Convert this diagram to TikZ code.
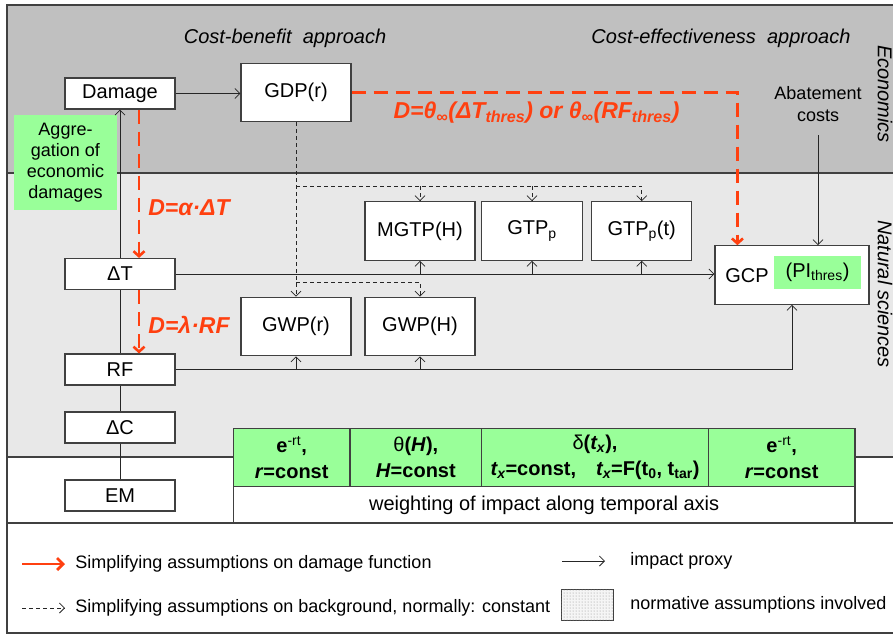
\documentclass[tikz,border=0pt]{standalone}
\usepackage{fontspec}
\setmainfont{Liberation Sans}
\usepackage{tikz}
\usetikzlibrary{arrows.meta,patterns}
\tikzset{every picture/.style={line width=0.75pt}}

\definecolor{econgray}{RGB}{192,192,192}
\definecolor{natgray}{RGB}{232,232,232}
\definecolor{normgreen}{RGB}{153,255,153}
\definecolor{dmgred}{RGB}{255,64,16}
\definecolor{linegray}{RGB}{64,64,64}

\tikzset{
  box/.style={draw=linegray, fill=white, line width=1.1pt, inner sep=0pt, minimum width=110pt, minimum height=31pt, font=\fontsize{20}{24}\selectfont},
  bigbox/.style={box, minimum height=58.5pt},
  link/.style={draw=black!85, line width=0.8pt},
  proxy/.style={link, -{Straight Barb[length=5pt,width=10pt]}},
  bgdash/.style={proxy, dash pattern=on 4pt off 3pt},
  dmgarrow/.style={draw=dmgred, line width=2.6pt, dash pattern=on 14pt off 8pt, -{Straight Barb[length=5pt,width=11pt]}},
  dmglabel/.style={text=dmgred, font=\fontsize{23}{27}\selectfont\bfseries\itshape},
  cell/.style={draw=linegray, fill=normgreen, line width=1.1pt, inner sep=0pt, minimum height=58.4pt, align=center, font=\fontsize{20}{26}\selectfont\bfseries},
  legtext/.style={anchor=west, inner sep=0pt, font=\fontsize{18}{22}\selectfont},
  heading/.style={font=\fontsize{20}{24}\selectfont\itshape},
}

\begin{document}
\begin{tikzpicture}[x=1pt,y=1pt,yscale=-1,xscale=1]
	\useasboundingbox (0,0) rectangle (893,635);
	\clip (0,0) rectangle (893,635);

	%Shape: Rectangle [economics band]
	\fill [econgray] (7,5) rectangle (893,173);
	%Shape: Rectangle [natural sciences band]
	\fill [natgray] (7,173) rectangle (893,457);
	%Shape: Frame
	\draw [linegray, line width=1.1pt] (7,5) rectangle (900,633);
	\draw [linegray, line width=1.1pt] (7,173) -- (893,173);
	\draw [linegray, line width=1.1pt] (7,457) -- (893,457);
	\draw [linegray, line width=1.1pt] (7,523) -- (893,523);

	% Text Node
	\node [heading] (cba) at (285,38) {Cost-benefit \ approach};
	% Text Node
	\node [heading] (cea) at (721,38) {Cost-effectiveness \ approach};
	% Text Node
	\node [heading, rotate=-90] (econ) at (885,94) {Economics};
	% Text Node
	\node [heading, rotate=-90] (natsci) at (885,294) {Natural sciences};

	% Boxes
	\node [box] (dmg) at (120,93.5) {Damage};
	\node [bigbox] (gdp) at (296,92.5) {GDP(r)};
	\node [box] (dT) at (120,274) {ΔT};
	\node [box] (rf) at (120,369.5) {RF};
	\node [box] (dC) at (120,427.5) {ΔC};
	\node [box] (em) at (120,495.5) {EM};
	\node [bigbox] (mgtp) at (420,231) {MGTP(H)};
	\node [bigbox, minimum width=101pt] (gtpp) at (532,231) {GTP\textsubscript{p}};
	\node [bigbox, minimum width=100pt] (gtppt) at (641.7,231) {GTP\textsubscript{p}(t)};
	\node [bigbox] (gwpr) at (296,326.5) {GWP(r)};
	\node [bigbox] (gwph) at (420,326.5) {GWP(H)};
	\node [bigbox, minimum width=154pt] (gcp) at (792,275) {};
	\node [font=\fontsize{20}{24}\selectfont] (gcplbl) at (747,276) {GCP};
	\node [fill=normgreen, minimum width=87pt, minimum height=33.6pt, inner sep=0pt, font=\fontsize{20}{24}\selectfont] (pithres) at (817.5,272.5) {(PI\textsubscript{thres})};

	% Text Node
	\node [fill=normgreen, minimum width=103pt, minimum height=95pt, inner sep=0pt, align=center, font=\fontsize{18}{21}\selectfont] (aggr) at (65.5,162.5) {Aggre-\\gation of\\economic\\damages};
	% Text Node
	\node [align=center, font=\fontsize{18}{22}\selectfont] (abate) at (818,104) {Abatement\\costs};

	% impact proxies
	\draw [proxy] (dmg.east) -- (dmg.east -| gdp.west);
	\draw [proxy] (dT.north) -- (dmg.south);
	\draw [link] (dT.south) -- (rf.north);
	\draw [link] (rf.south) -- (dC.north);
	\draw [link] (dC.south) -- (em.north);
	\draw [proxy] (dT.east) -- (dT.east -| gcp.west);
	\foreach \n in {mgtp,gtpp,gtppt}
		\draw [proxy] (dT.east -| \n.south) -- (\n.south);
	\draw [proxy] (rf.east) -| (gcp.south);
	\foreach \n in {gwpr,gwph}
		\draw [proxy] (rf.east -| \n.south) -- (\n.south);
	\draw [proxy, shorten <=10pt] (abate.south) -- (abate.south |- gcp.north);

	% background assumptions
	\coordinate (bgtop) at (296,186);
	\coordinate (bgbot) at (296,282);
	\draw [bgdash] (gdp.south) -- (gwpr.north);
	\draw [bgdash] (bgtop) -| (gtppt.north);
	\foreach \n in {mgtp,gtpp}
		\draw [bgdash] (bgtop -| \n.north) -- (\n.north);
	\draw [bgdash] (bgbot) -| (gwph.north);

	% damage function
	\draw [dmgarrow] (gdp.east) -| ([xshift=23pt]gcp.north west);
	\draw [dmgarrow] ([xshift=19pt]dmg.south) -- ([xshift=19pt]dT.north);
	\draw [dmgarrow] ([xshift=19pt]dT.south) -- ([xshift=19pt]rf.north);
	\node [dmglabel] (lblalpha) at (189,207.5) {D=α·ΔT};
	\node [dmglabel] (lbllambda) at (189,325) {D=λ·RF};
	\node [dmglabel] (lbltheta) at (536.5,113) {D=θ\textsubscript{∞}(ΔT\textsubscript{thres}) or θ\textsubscript{∞}(RF\textsubscript{thres})};

	% weighting table
	\node [cell, minimum width=116.7pt] (c1) at (291.65,457.5) {e\textsuperscript{\mdseries -rt},\\\textit{r}=const};
	\node [cell, minimum width=131.7pt] (c2) at (415.85,457.5) {\textmd{θ}(\textit{H}),\\\textit{H}=const};
	\node [cell, minimum width=226.6pt] (c3) at (595,457.5) {\textmd{δ}(\textit{t\textsubscript{x}}),\\\textit{t\textsubscript{x}}=const,\quad\textit{t\textsubscript{x}}=F(t\textsubscript{0}, t\textsubscript{tar})};
	\node [cell, minimum width=146.7pt] (c4) at (781.65,457.5) {e\textsuperscript{\mdseries -rt},\\\textit{r}=const};
	\node [draw=linegray, fill=white, line width=1.1pt, inner sep=0pt, minimum width=621.7pt, minimum height=36.3pt, font=\fontsize{20}{24}\selectfont] (wrow) at (544.15,504.85) {weighting of impact along temporal axis};

	% legend
	\node [legtext] (leg1) at (75,564) {Simplifying assumptions on damage function};
	\node [legtext] (leg2) at (75,608) {Simplifying assumptions on background, normally: constant};
	\node [legtext] (leg3) at (630,561) {impact proxy};
	\node [legtext] (leg4) at (630,605) {normative assumptions involved};
	\node [draw=linegray, line width=1pt, fill=gray!8, minimum width=51.6pt, minimum height=31.7pt, inner sep=0pt] (normbox) at (587.5,605) {};
	\fill [pattern=dots, pattern color=black!45] (normbox.south west) rectangle (normbox.north east);
	\draw [draw=dmgred, line width=2.8pt, -{Straight Barb[length=6pt,width=12pt]}] ([xshift=-53pt]leg1.west) -- ([xshift=-10pt]leg1.west);
	\draw [bgdash] ([xshift=-53pt]leg2.west) -- ([xshift=-10pt]leg2.west);
	\draw [proxy] ([xshift=-68pt]leg3.west) -- ([xshift=-25pt]leg3.west);
\end{tikzpicture}
\end{document}
